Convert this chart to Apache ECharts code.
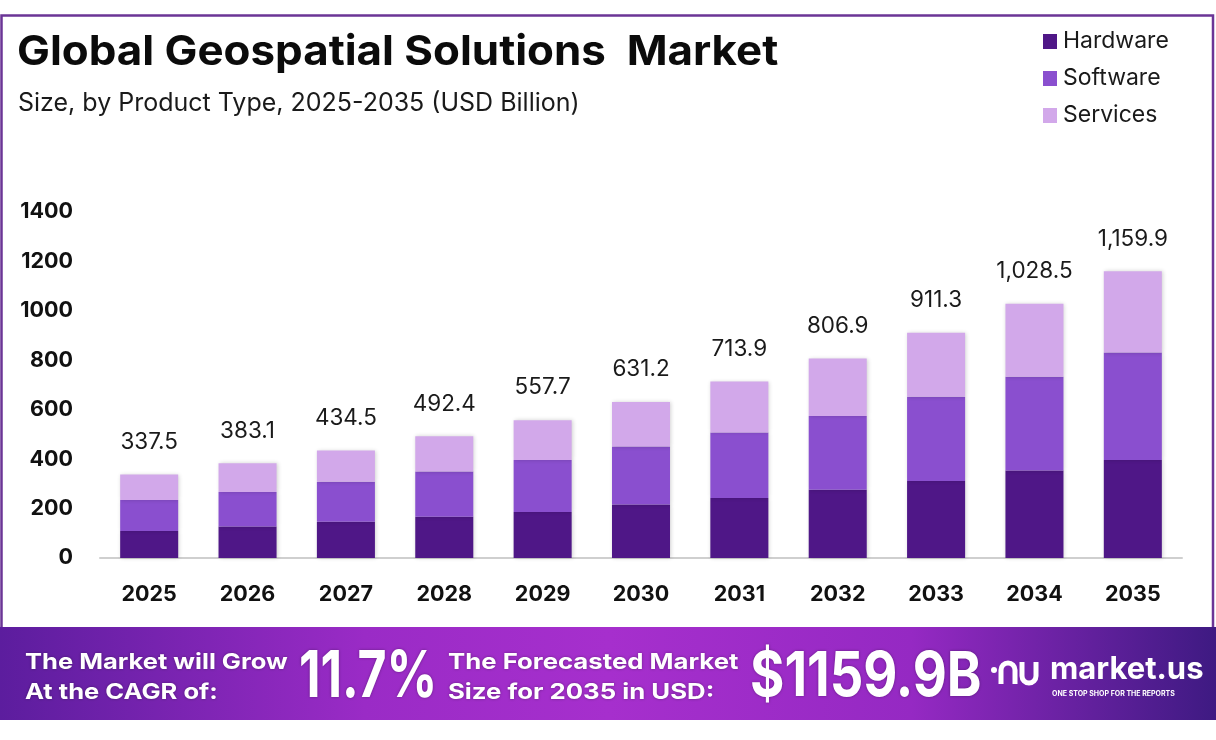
<!DOCTYPE html>
<html>
<head>
<meta charset="utf-8">
<script src="https://cdn.jsdelivr.net/npm/echarts@6/dist/echarts.min.js"></script>
<style>
html,body{margin:0;padding:0;background:#fff;}
#c{width:1216px;height:740px;}
</style>
</head>
<body>
<div id="c"></div>
<script>
const years = ['2025','2026','2027','2028','2029','2030','2031','2032','2033','2034','2035'];
const hardware = [109, 127, 147, 167, 186, 216, 243, 276, 312, 354, 397];
const software = [126, 140, 162, 183, 211, 235, 265, 299, 340, 379, 434];
const services = [102.5, 116.1, 125.5, 142.4, 160.7, 180.2, 205.9, 231.9, 259.3, 295.5, 328.9];
const totals = [337.5, 383.1, 434.5, 492.4, 557.7, 631.2, 713.9, 806.9, 911.3, 1028.5, 1159.9];
const yTicks = [0, 200, 400, 600, 800, 1000, 1200, 1400];
const cagr = '11.7%';
const forecast = '$1159.9B';

const FONT = 'Inter, "Noto Sans", sans-serif';
const colors = ['#4f1787', '#8a4fcf', '#d2a8ea'];
const shadow = {shadowBlur: 4, shadowColor: 'rgba(0,0,0,0.18)', shadowOffsetX: 1, shadowOffsetY: 0};
const tshadow = {textShadowColor: 'rgba(0,0,0,0.35)', textShadowBlur: 3};

const chart = echarts.init(document.getElementById('c'));
chart.setOption({
  animation: false,
  textStyle: {fontFamily: FONT},
  grid: {left: 100, right: 34, top: 212, bottom: 182},
  legend: {
    orient: 'vertical', left: 1038, top: 25,
    itemWidth: 14, itemHeight: 15, itemGap: 14,
    icon: 'rect',
    textStyle: {fontSize: 23, color: '#1a1a1a', fontFamily: FONT, lineHeight: 23, padding: [0,0,0,1]},
    data: ['Hardware', 'Software', 'Services']
  },
  xAxis: {
    type: 'category', data: years,
    axisLine: {lineStyle: {color: '#cfcfcf', width: 2}},
    axisTick: {show: false},
    axisLabel: {fontSize: 21.5, fontWeight: 'bold', color: '#111', margin: 26, fontFamily: FONT}
  },
  yAxis: {
    type: 'value', min: 0, max: 1400, interval: 200,
    axisLine: {show: false}, axisTick: {show: false}, splitLine: {show: false},
    axisLabel: {fontSize: 21.5, fontWeight: 'bold', color: '#111', margin: 27, fontFamily: FONT,
      formatter: v => yTicks.indexOf(v) >= 0 ? String(v) : ''}
  },
  series: [
    {name: 'Hardware', type: 'bar', stack: 't', data: hardware, barWidth: '59%',
     itemStyle: Object.assign({color: colors[0]}, shadow)},
    {name: 'Software', type: 'bar', stack: 't', data: software, barWidth: '59%',
     itemStyle: Object.assign({color: colors[1]}, shadow)},
    {name: 'Services', type: 'bar', stack: 't', data: services, barWidth: '59%',
     itemStyle: Object.assign({color: colors[2]}, shadow),
     label: {show: true, position: 'top', distance: 21, fontSize: 22.5, color: '#1a1a1a', fontFamily: FONT,
       formatter: p => totals[p.dataIndex].toLocaleString('en-US', {minimumFractionDigits: 1, maximumFractionDigits: 1})}}
  ],
  graphic: [
    {type: 'polyline', shape: {points: [[1.5, 627], [1.5, 15.5], [1213, 15.5], [1213, 627]]},
     style: {stroke: '#6b3596', lineWidth: 2.5, fill: null}, z: 1},
    {type: 'text', x: 17, y: 53, scaleX: 1.07, style: {text: 'Global Geospatial Solutions  Market', font: 'bold 41px ' + FONT, fill: '#0b0b0b', verticalAlign: 'middle'}},
    {type: 'text', x: 18, y: 103, style: {text: 'Size, by Product Type, 2025-2035 (USD Billion)', font: '25px ' + FONT, fill: '#1a1a1a', verticalAlign: 'middle'}},
    {type: 'rect', shape: {x: 0, y: 627, width: 1216, height: 93}, z: 5,
     style: {fill: new echarts.graphic.LinearGradient(0, 0, 1, 0, [
       {offset: 0, color: '#5c1d9e'}, {offset: 0.3, color: '#9a2bc6'}, {offset: 0.5, color: '#a62fcd'},
       {offset: 0.75, color: '#9529c3'}, {offset: 1, color: '#3e1a82'}])}},
    {type: 'text', x: 25, y: 677, scaleX: 1.16, z: 6, style: Object.assign({text: 'The Market will Grow\nAt the CAGR of:', font: 'bold 22px ' + FONT, fill: '#fff', lineHeight: 30, verticalAlign: 'middle'}, tshadow)},
    {type: 'text', x: 299, y: 677, scaleY: 1.3, z: 6, style: Object.assign({text: cagr, font: 'bold 50px ' + FONT, fill: '#fff', verticalAlign: 'middle'}, tshadow)},
    {type: 'text', x: 448, y: 677, scaleX: 1.17, z: 6, style: Object.assign({text: 'The Forecasted Market\nSize for 2035 in USD:', font: 'bold 22px ' + FONT, fill: '#fff', lineHeight: 30, verticalAlign: 'middle'}, tshadow)},
    {type: 'text', x: 750, y: 677, scaleX: 1.03, scaleY: 1.22, z: 6, style: Object.assign({text: forecast, font: 'bold 51px ' + FONT, fill: '#fff', verticalAlign: 'middle'}, tshadow)},
    {type: 'circle', z: 6, shape: {cx: 994, cy: 670, r: 3}, style: {fill: '#fff'}},
    {type: 'arc', z: 6, shape: {cx: 1008, cy: 670, r: 7, startAngle: Math.PI, endAngle: 0, clockwise: true}, style: {stroke: '#fff', lineWidth: 5, fill: null}},
    {type: 'line', z: 6, shape: {x1: 1001, y1: 670, x2: 1001, y2: 684}, style: {stroke: '#fff', lineWidth: 5}},
    {type: 'line', z: 6, shape: {x1: 1015, y1: 670, x2: 1015, y2: 684}, style: {stroke: '#fff', lineWidth: 5}},
    {type: 'arc', z: 6, shape: {cx: 1029, cy: 676, r: 7, startAngle: 0, endAngle: Math.PI, clockwise: true}, style: {stroke: '#fff', lineWidth: 5, fill: null}},
    {type: 'line', z: 6, shape: {x1: 1022, y1: 662, x2: 1022, y2: 676}, style: {stroke: '#fff', lineWidth: 5}},
    {type: 'line', z: 6, shape: {x1: 1036, y1: 662, x2: 1036, y2: 676}, style: {stroke: '#fff', lineWidth: 5}},
    {type: 'text', x: 1050, y: 654, z: 6, style: {text: 'market.us', font: 'bold 31px ' + FONT, fill: '#fff'}},
    {type: 'text', x: 1052, y: 690, z: 6, style: {text: 'ONE STOP SHOP FOR THE REPORTS', font: 'bold 7px ' + FONT, fill: '#fff'}}
  ]
});
</script>
</body>
</html>
